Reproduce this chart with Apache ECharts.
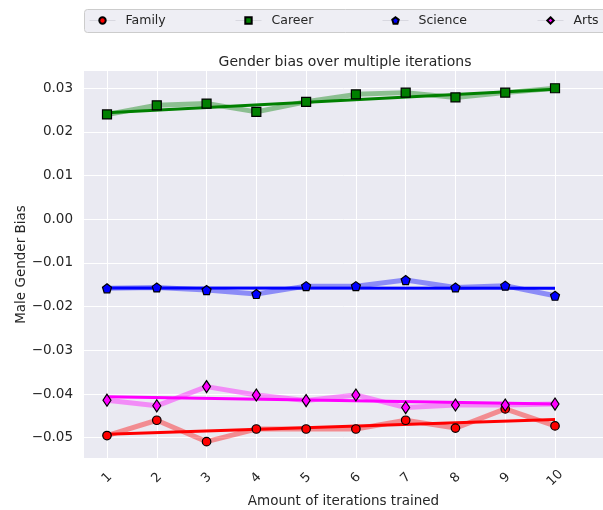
<!DOCTYPE html>
<html><head><meta charset="utf-8">
<script src="https://cdn.jsdelivr.net/npm/echarts@6/dist/echarts.min.js"></script>
<style>html,body{margin:0;padding:0;background:#fff}#c{width:603px;height:510px}</style>
</head><body><div id="c"></div>
<script>
const iterations = [1,2,3,4,5,6,7,8,9,10];
const family  = [-0.0495,-0.0460,-0.0509,-0.0480,-0.0480,-0.0480,-0.0460,-0.0478,-0.0434,-0.0473];
const career  = [0.0240,0.0261,0.0265,0.0246,0.0269,0.0286,0.0290,0.0279,0.0290,0.0300];
const science = [-0.0158,-0.0156,-0.0162,-0.0171,-0.0153,-0.0153,-0.0139,-0.0156,-0.0152,-0.0175];
const arts    = [-0.0414,-0.0427,-0.0383,-0.0402,-0.0415,-0.0402,-0.0431,-0.0425,-0.0425,-0.0423];
// trend line endpoints (x = 1 and x = 10)
const trendX = [1,10];
const familyTrend  = [-0.0492,-0.0458];
const careerTrend  = [0.0244,0.0298];
const scienceTrend = [-0.0157,-0.0158];
const artsTrend    = [-0.0406,-0.0423];
const yTicks = [-0.05,-0.04,-0.03,-0.02,-0.01,0,0.01,0.02,0.03];
const xTicks = [1,2,3,4,5,6,7,8,9,10];

const FONT = 'DejaVu Sans';
const TXT = '#262626';
const pent = 'path://M0,-1 L0.951,-0.309 L0.588,0.809 L-0.588,0.809 L-0.951,-0.309 Z';

const groups = [
  {name:'Family', data:family, trend:familyTrend, color:'#ff0000', symbol:'circle', size:8.5},
  {name:'Career', data:career, trend:careerTrend, color:'#008000', symbol:'rect', size:9},
  {name:'Science', data:science, trend:scienceTrend, color:'#0000ff', symbol:pent, size:9},
  {name:'Arts', data:arts, trend:artsTrend, color:'#ff00ff', symbol:'diamond', size:[8,12]}
];
const series = [];
groups.forEach(g => {
  const pts = iterations.map((x,i)=>[x,g.data[i]]);
  series.push({type:'line', name:g.name+' path', data:pts, showSymbol:false, silent:true, z:2,
    lineStyle:{color:g.color, width:5, opacity:0.4}, itemStyle:{color:g.color}});
  series.push({type:'line', name:g.name+' trend', data:trendX.map((x,i)=>[x,g.trend[i]]), showSymbol:false, silent:true, z:3,
    lineStyle:{color:g.color, width:3}, itemStyle:{color:g.color}});
  series.push({type:'line', name:g.name, data:pts, symbol:g.symbol, symbolSize:g.size, showAllSymbol:true, z:4,
    lineStyle:{width:0, opacity:0}, itemStyle:{color:g.color, borderColor:'#000', borderWidth:1.2}});
});
const legendLefts = [89,235,382,537];
const legends = groups.map((g,i)=>({
  data:[g.name], left:legendLefts[i], top:14, itemWidth:26, itemHeight:8, padding:0,
  textStyle:{fontFamily:FONT, fontSize:12.5, color:TXT, padding:[0,0,0,5]},
  lineStyle:{color:'#d8d8e0', width:1, opacity:1}
}));

const chart = echarts.init(document.getElementById('c'), null, {renderer:'canvas'});
chart.setOption({
  animation:false,
  backgroundColor:'#ffffff',
  title:{text:'Gender bias over multiple iterations', left:340, textAlign:'center', top:50,
    textStyle:{fontFamily:FONT, fontSize:14, fontWeight:'normal', color:TXT}},
  graphic:[{type:'rect', shape:{x:84.5, y:9.5, width:530, height:23, r:3}, z:-1,
    style:{fill:'#eeeef4', stroke:'#cccccc', lineWidth:1}}],
  legend:legends,
  grid:{left:84, right:0, top:71, bottom:52, show:true, backgroundColor:'#eaeaf2', borderWidth:0,
    outerBoundsMode:'none', containLabel:false},
  xAxis:{type:'value', min:0.538, max:10.964,
    name:'Amount of iterations trained', nameLocation:'middle', nameGap:36, nameMoveOverlap:false,
    nameTextStyle:{fontFamily:FONT, fontSize:13.5, color:TXT},
    axisLine:{show:false}, axisTick:{show:false, customValues:xTicks},
    axisLabel:{customValues:xTicks, rotate:45, fontFamily:FONT, fontSize:13, color:TXT, margin:20, align:'center', verticalAlign:'middle'},
    splitLine:{show:true, lineStyle:{color:'#ffffff', width:1}}},
  yAxis:{type:'value', min:-0.05464, max:0.03395,
    name:'Male Gender Bias', nameLocation:'middle', nameGap:56, nameMoveOverlap:false,
    nameTextStyle:{fontFamily:FONT, fontSize:13.5, color:TXT},
    axisLine:{show:false}, axisTick:{show:false, customValues:yTicks},
    axisLabel:{customValues:yTicks, fontFamily:FONT, fontSize:13.5, color:TXT, margin:11,
      formatter:v=>(v< -1e-9?'\u2212':'')+Math.abs(v).toFixed(2)},
    splitLine:{show:true, lineStyle:{color:'#ffffff', width:1}}},
  series:series
});
</script></body></html>
